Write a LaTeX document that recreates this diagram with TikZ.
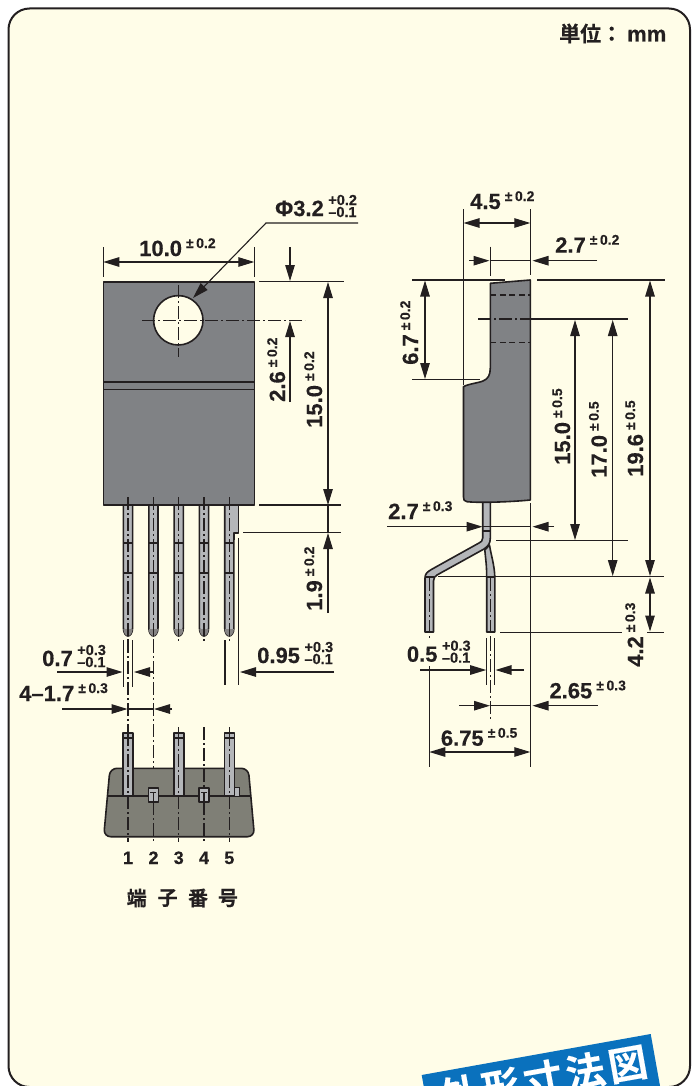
\documentclass[tikz,border=0pt]{standalone}
\usepackage{fontspec}
\setmainfont{Liberation Sans}[BoldFont={Liberation Sans Bold},BoldFeatures={FakeBold=0.35}]
\newfontfamily\cjkb[FakeBold=0.25]{Noto Sans CJK JP Bold}
\usetikzlibrary{arrows.meta}
\definecolor{ink}{HTML}{231F20}
\definecolor{paper}{HTML}{FFFDE8}
\definecolor{bodyg}{HTML}{808285}
\definecolor{leadg}{HTML}{B4B6B9}
\definecolor{olive}{HTML}{7F7F76}
\definecolor{tagblue}{HTML}{0A71BD}
\newcommand\tolA[2]{{\fontsize{22}{22}\selectfont #1}\hspace{4pt}\raisebox{8pt}{\fontsize{14}{14}\selectfont ±\hspace{2.5pt}#2}}
\newcommand\tolB[3]{{\fontsize{22}{22}\selectfont #1}\hspace{4.5pt}\rlap{\raisebox{11pt}{\fontsize{14.5}{14.5}\selectfont #2}}\raisebox{-1pt}{\fontsize{14.5}{14.5}\selectfont #3}}
\tikzset{
  x=1pt,y=-1pt,
  lbl/.style={inner sep=0pt,anchor=base west,font=\bfseries,text=ink},
  vlbl/.style={lbl,rotate=90},
  thin line/.style={draw=ink,line width=1.1pt},
  tipe/.style={thin line,-{Triangle[length=16pt,width=9.5pt]}},
  tipb/.style={thin line,{Triangle[length=16pt,width=9.5pt]}-{Triangle[length=16pt,width=9.5pt]}},
  cline/.style={draw=ink,line width=1.1pt,dash pattern=on 13pt off 3pt on 2pt off 3pt},
  dline/.style={draw=ink,line width=1.1pt,dash pattern=on 6pt off 3.5pt},
  outline/.style={draw=ink,line width=1.6pt,line join=round},
  num/.style={inner sep=0pt,anchor=base,font=\bfseries\fontsize{18}{18}\selectfont,text=ink},
  kanji/.style={inner sep=0pt,text=ink,font=\cjkb\fontsize{20}{20}\selectfont},
}
\begin{document}
\begin{tikzpicture}
\useasboundingbox (0,0) rectangle (692,1086);
\clip (0,0) rectangle (692,1086);
% panel
\draw[fill=paper,draw=ink,line width=2pt,rounded corners=21pt] (8.5,8.5) rectangle (690,1087);
\node[kanji,anchor=base west,font=\cjkb\fontsize{21}{21}\selectfont] (unit) at (559,41.5) {単位：\hspace{5pt}\bfseries\rmfamily\fontsize{22}{22}\selectfont mm};

% ---------- front view ----------
\foreach \x in {128,153.4,178.7,204,229.3}{
  \draw[outline,fill=leadg] (\x-4.6,505) -- (\x-4.6,628) .. controls (\x-4.6,633) and (\x-2,636) .. (\x,636) .. controls (\x+2,636) and (\x+4.6,633) .. (\x+4.6,628) -- (\x+4.6,505);
  \fill[ink!55] (\x-4.6,629) .. controls (\x-4.6,633) and (\x-2,636) .. (\x,636) .. controls (\x+2,636) and (\x+4.6,633) .. (\x+4.6,629) -- cycle;
  \draw[outline] (\x-4.6,543) -- (\x+4.6,543) (\x-4.6,573) -- (\x+4.6,573);
}
\fill[leadg] (229.3,505) rectangle (238.3,533);
\fill[leadg] (229.3,505) rectangle (233.9,540);
\draw[outline] (233.9,540) -- (233.9,533) -- (238.3,533) -- (238.3,505);
\fill[bodyg] (103.3,281.7) rectangle (254.3,505);
\draw[outline] (103.3,281.7) rectangle (254.3,505);
\draw[outline] (103.3,381.7) -- (254.3,381.7) (103.3,389.3) -- (254.3,389.3);
\draw[outline,fill=paper] (178.3,320.3) circle (24.7);
\foreach \x in {128,153.4,178.7,204,229.3}{
  \draw[cline] (\x,497) -- (\x,643);
}
\draw[cline] (178.3,285) -- (178.3,357);
\draw[cline] (142,320.3) -- (305,320.3);

% dims: 10.0
\draw[thin line] (103.3,247) -- (103.3,277);
\draw[thin line] (254.3,247) -- (254.3,277);
\draw[tipb] (103.3,262) -- (254.3,262);
\node[lbl] (d100) at (139,256) {\tolA{10.0}{0.2}};
% phi
\draw[tipe] (358,223) -- (266,223) -- (193,298);
\node[lbl] (dphi) at (275,216) {\tolB{Φ3.2}{+0.2}{–0.1}};
% 2.6
\draw[thin line] (259,281.7) -- (344,281.7);
\draw[tipe] (290,247) -- (290,281);
\draw[tipe] (290,402) -- (290,321);
\node[vlbl] (d26) at (285,402) {\tolA{2.6}{0.2}};
% 15.0
\draw[tipb] (328,282) -- (328,505);
\draw[thin line] (259,505) -- (341,505);
\draw[thin line] (328,505) -- (328,532);
\node[vlbl] (d150) at (322,428) {\tolA{15.0}{0.2}};
% 1.9
\draw[thin line] (243,532.3) -- (341,532.3);
\draw[tipe] (328,613) -- (328,533);
\node[vlbl] (d19) at (322,611) {\tolA{1.9}{0.2}};
% 0.95
\draw[thin line] (225,640) -- (225,685);
\draw[thin line] (238.7,538) -- (238.7,685);
\draw[tipe] (334,672) -- (240,672);
\node[lbl] (d095) at (257,663) {\tolB{0.95}{+0.3}{–0.1}};
% 0.7
\draw[thin line] (123.5,640) -- (123.5,687);
\draw[thin line] (132.7,640) -- (132.7,687);
\draw[tipe] (57,672) -- (122.5,672);
\draw[tipe] (153.4,672) -- (134,672);
\node[lbl] (d07) at (42,666) {\tolB{0.7}{+0.3}{–0.1}};
\draw[cline] (128,640) -- (128,735);
\draw[cline] (153.4,640) -- (153.4,790);
% 4-1.7
\draw[tipe] (62,709) -- (127.5,709);
\draw[tipe] (172,709) -- (154,709);
\draw[thin line] (128,709) -- (153.4,709);
\node[lbl] (d17) at (19,701) {\tolA{4–1.7}{0.3}};

% ---------- bottom view ----------
\draw[outline,fill=olive,rounded corners=7pt] (110,768.3) -- (248.3,768.3) -- (254.5,836.7) -- (103.7,836.7) -- cycle;
\draw[outline] (107.6,796) -- (250.8,796);
\draw[cline] (178.7,727) -- (178.7,735);
\draw[cline] (229.3,727) -- (229.3,735);
\draw[cline] (204,727) -- (204,790);
\foreach \x in {128,178.7,229.3}{
  \draw[outline,fill=leadg] (\x-5,732.7) rectangle (\x+5,796);
  \draw[outline] (\x-5,738) -- (\x+5,738);
  \draw[cline] (\x,733) -- (\x,842);
}
\foreach \x in {153.4,204}{
  \draw[outline,fill=leadg] (\x-5,788) rectangle (\x+5,801.7);
  \draw[outline] (\x-3,792.5) -- (\x+3,792.5);
  \draw[thin line] (\x,792.5) -- (\x,801.7);
  \draw[cline] (\x,802) -- (\x,842);
}
\draw[draw=ink,line width=1pt,fill=leadg] (234.3,787.7) rectangle (239,796);
\foreach \n/\x in {1/128,2/153.5,3/178.7,4/204,5/229.3}{
  \node[num] (n\n) at (\x,864) {\n};
}
\node[kanji] (k1) at (136.7,898) {端};
\node[kanji] (k2) at (167.7,898) {子};
\node[kanji] (k3) at (198,898) {番};
\node[kanji] (k4) at (228,898) {号};

% ---------- side view ----------
% leads
\draw[outline,fill=leadg] (484.8,550) .. controls (485.5,558) and (486.7,565) .. (486.7,577) -- (486.7,632) -- (494.8,632) -- (494.8,577) .. controls (494.5,565) and (491,555) .. (489.5,545) -- cycle;
\draw[outline,fill=leadg] (482.7,501) -- (482.7,538) .. controls (482.7,541) and (481,542) .. (479,543) -- (431.7,569.3) .. controls (427,572) and (425,574) .. (425,578) -- (425,632) -- (433.5,632) -- (433.5,581) .. controls (433.5,578) and (435,576) .. (437,575) -- (484,549) .. controls (488,546) and (490.3,544) .. (490.3,538) -- (490.3,501);
\draw[outline] (482.7,531) -- (490.3,531);
\draw[outline] (425,577) -- (433.5,577) (486.7,577) -- (494.8,577);
\draw[cline] (429.3,578) -- (429.3,640);
\draw[cline] (490.7,578) -- (490.7,640);
% body
\draw[outline,fill=bodyg] (490.3,283.3) -- (530.3,280) -- (530.3,500) .. controls (510,502) and (480,503) .. (467,501.7) .. controls (464,501) and (463.5,500) .. (463.5,497) -- (463.5,386.7) .. controls (468,384) and (478,383) .. (483,381) .. controls (488,379) and (490.3,375) .. (490.3,368) -- cycle;
\draw[dline] (490.3,295) -- (530.3,295) (490.3,342.7) -- (530.3,342.7);
\draw[cline] (478,319) -- (530.3,319);
\draw[thin line] (530.3,319) -- (627.7,319);
% ext
\draw[thin line] (463.5,209) -- (463.5,385);
\draw[thin line] (530.3,209) -- (530.3,275);
\draw[thin line] (490.3,246.7) -- (490.3,276);
\draw[thin line] (412,280) -- (505,280);
\draw[thin line] (537,280) -- (665,280);
\draw[thin line] (412,379.3) -- (480,379.3);
\draw[thin line] (496,540.7) -- (627.7,540.7);
\draw[thin line] (438,576.7) -- (664,576.7);
\draw[thin line] (500,632.3) -- (621.7,632.3);
\draw[thin line] (647,632.3) -- (664,632.3);
\draw[thin line] (530.3,503) -- (530.3,767);
% 4.5
\draw[tipb] (463.5,223) -- (530.3,223);
\node[lbl] (d45) at (470,209) {\tolA{4.5}{0.2}};
% 2.7 top
\draw[tipe] (469,260.7) -- (489.5,260.7);
\draw[thin line] (490.3,260.7) -- (530.3,260.7);
\draw[tipe] (597,260.7) -- (532.5,260.7);
\node[lbl] (d27a) at (555,252.7) {\tolA{2.7}{0.2}};
% 6.7
\draw[tipb] (425,280.5) -- (425,379);
\node[vlbl] (d67) at (418,365) {\tolA{6.7}{0.2}};
% 15.0
\draw[tipb] (575,320) -- (575,540);
\node[vlbl] (d150b) at (570,465) {\tolA{15.0}{0.5}};
% 17.0
\draw[tipb] (612.7,320) -- (612.7,576);
\node[vlbl] (d170) at (606.7,478) {\tolA{17.0}{0.5}};
% 19.6
\draw[tipb] (650,280.5) -- (650,576);
\node[vlbl] (d196) at (643,477) {\tolA{19.6}{0.5}};
% 4.2
\draw[tipb] (650,577.5) -- (650,631.5);
\node[vlbl] (d42) at (643,667) {\tolA{4.2}{0.3}};
% 2.7 lower
\draw[tipe] (387,526.7) -- (482.5,526.7);
\draw[tipe] (554,526.7) -- (532.5,526.7);
\draw[thin line] (483,526.7) -- (530.3,526.7);
\node[lbl] (d27b) at (388,519) {\tolA{2.7}{0.3}};
% 0.5
\draw[thin line] (486.7,638) -- (486.7,685);
\draw[thin line] (494.8,638) -- (494.8,685);
\draw[cline] (490.7,638) -- (490.7,720);
\draw[tipe] (420,670) -- (486.2,670);
\draw[tipe] (524,670) -- (495.5,670);
\node[lbl] (d05) at (406.7,661.7) {\tolB{0.5}{+0.3}{–0.1}};
\draw[thin line] (429.3,666) -- (429.3,767);
% 2.65
\draw[tipe] (459,705.7) -- (490,705.7);
\draw[thin line] (490.7,705.7) -- (530.3,705.7);
\draw[tipe] (597.7,705.7) -- (532.5,705.7);
\node[lbl] (d265) at (549.3,698.3) {\tolA{2.65}{0.3}};
% 6.75
\draw[tipb] (429.3,752) -- (530.3,752);
\node[lbl] (d675) at (440.7,745.7) {\tolA{6.75}{0.5}};

% ---------- tag ----------
\fill[tagblue] (421.7,1075) -- (650.7,1034) -- (662,1097) -- (433,1138) -- cycle;
\node[inner sep=0pt,text=white,rotate=10.15,font=\cjkb\fontsize{39}{39}\selectfont] (tag) at (543,1079) {外\hspace{4pt}形\hspace{4pt}寸\hspace{4pt}法\hspace{4pt}図};
\end{tikzpicture}
\end{document}
